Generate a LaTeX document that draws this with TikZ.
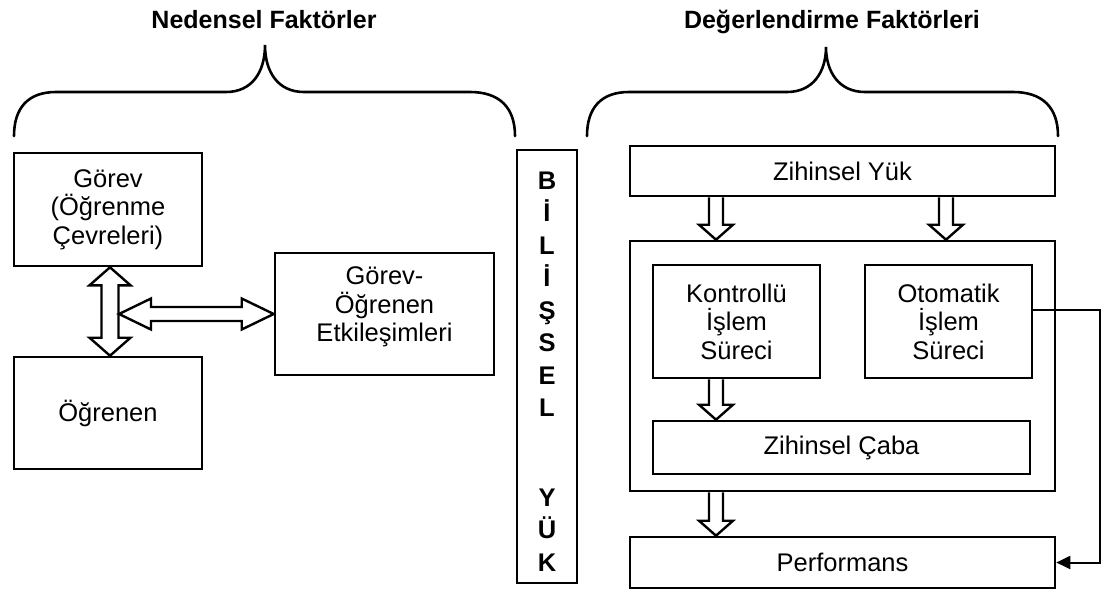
\documentclass[tikz,border=0pt]{standalone}
\usepackage{fontspec}
\setmainfont{Liberation Sans}
\usetikzlibrary{calc,arrows.meta}

% single hollow block arrow pointing down: #1 top point, #2 tip
\newcommand\blkdown[2]{%
  \draw[blk] let \p1=#1, \p2=#2 in
    (\x1-7pt,\y1) -- (\x1-7pt,\y2+15pt) -- (\x1-17pt,\y2+15pt) -- (\x2,\y2)
    -- (\x1+17pt,\y2+15pt) -- (\x1+7pt,\y2+15pt) -- (\x1+7pt,\y1);}
% hollow vertical double arrow: #1 upper tip, #2 lower tip
\newcommand\blkdoublev[2]{%
  \draw[blk] let \p1=#1, \p2=#2 in
    (\x1,\y1) -- (\x1+20.5pt,\y1-18pt) -- (\x1+8.5pt,\y1-18pt) -- (\x1+8.5pt,\y2+18pt)
    -- (\x1+20.5pt,\y2+18pt) -- (\x1,\y2) -- (\x1-20.5pt,\y2+18pt) -- (\x1-8.5pt,\y2+18pt)
    -- (\x1-8.5pt,\y1-18pt) -- (\x1-20.5pt,\y1-18pt) -- cycle;}
% hollow horizontal double arrow: #1 left tip, #2 right tip
\newcommand\blkdoubleh[2]{%
  \draw[blk] let \p1=#1, \p2=#2 in
    (\x1,\y1) -- (\x1+32pt,\y1+15.5pt) -- (\x1+32pt,\y1+7pt) -- (\x2-32pt,\y1+7pt)
    -- (\x2-32pt,\y1+15.5pt) -- (\x2,\y1) -- (\x2-32pt,\y1-15.5pt) -- (\x2-32pt,\y1-7pt)
    -- (\x1+32pt,\y1-7pt) -- (\x1+32pt,\y1-15.5pt) -- cycle;}

\begin{document}
\begin{tikzpicture}[x=1pt,y=-1pt,
  txt/.style={align=center,font=\fontsize{25.5}{28.5}\selectfont},
  box/.style={draw,line width=2.6pt,inner sep=0pt,txt},
  blk/.style={draw,fill=white,line width=2.4pt,line join=miter},
  brace/.style={draw,line width=2.6pt,line cap=round},
  title/.style={font=\fontsize{25}{29}\selectfont\bfseries,anchor=base},
  vlet/.style={font=\fontsize{25.5}{28}\selectfont\bfseries,anchor=base},
  conn/.style={draw,line width=2pt}]
\useasboundingbox (0,0) rectangle (1107,590);

% titles
\node[title] (t1) at (264,28) {Nedensel Faktörler};
\node[title] (t2) at (832,28) {Değerlendirme Faktörleri};

% braces
\path[brace] (14,136) .. controls (14,108) and (28,92) .. (56,92) -- (226,92)
  .. controls (252,92) and (265,72) .. (265,45)
  .. controls (265,72) and (278,92) .. (304,92) -- (470,92)
  .. controls (500,92) and (515,108) .. (515,136);
\path[brace] (587,136) .. controls (587,108) and (601,92) .. (629,92) -- (787,92)
  .. controls (813,92) and (826,72) .. (826,47)
  .. controls (826,72) and (839,92) .. (865,92) -- (1013,92)
  .. controls (1043,92) and (1058,108) .. (1058,136);

% left group
\node[box,minimum width=188pt,minimum height=113pt] (gorev) at (108,209.5)
  {Görev\\(Öğrenme\\Çevreleri)};
\node[box,minimum width=188pt,minimum height=112pt] (ogrenen) at (108,413) {Öğrenen};
\node[box,minimum width=219pt,minimum height=122pt] (etk) at (384.5,314) {};
\node[txt] (etktext) at ($(etk.center)+(0,-7)$) {Görev-\\Öğrenen\\Etkileşimleri};

\coordinate (va) at (110,0);
\coordinate (ha) at (119,314);
\blkdoublev{(va |- gorev.south)}{(va |- ogrenen.north)}
\blkdoubleh{(ha)}{(etk.west)}

% vertical label box
\node[draw,line width=2.6pt,minimum width=60pt,minimum height=433pt] (bil) at (547,366.5) {};
\foreach \l/\yy [count=\i] in {B/189,İ/221.5,L/254,İ/286.5,Ş/319,S/351.5,E/384,L/416.5,Y/506,Ü/538.5,K/571}
  \node[vlet] (let\i) at (547,\yy) {\l};

% right group
\node[box,minimum width=425pt,minimum height=50pt] (zy) at (842.5,171) {Zihinsel Yük};
\node[draw,line width=2.6pt,minimum width=425pt,minimum height=250pt] (big) at (842.5,366) {};
\node[box,minimum width=167pt,minimum height=113pt] (kon) at (736.5,321.5)
  {Kontrollü\\İşlem\\Süreci};
\node[box,minimum width=167pt,minimum height=113pt] (oto) at (948.5,321.5)
  {Otomatik\\İşlem\\Süreci};
\node[box,minimum width=377pt,minimum height=53pt] (zc) at (841.5,447.5) {Zihinsel Çaba};
\node[box,minimum width=425pt,minimum height=51pt] (perf) at (842.5,562.5) {Performans};

\coordinate (xa) at (716,0);
\coordinate (xb) at (946,0);
\blkdown{(xa |- zy.south)}{(xa |- big.north)}
\blkdown{(xb |- zy.south)}{(xb |- big.north)}
\blkdown{(xa |- kon.south)}{(xa |- zc.north)}
\blkdown{(xa |- big.south)}{(xa |- perf.north)}

\coordinate (c1) at (1100,310);
\draw[conn,-{Triangle[length=14pt,width=13pt]}] (oto.east |- c1) -- (c1) |- (perf.east);
\end{tikzpicture}
\end{document}
